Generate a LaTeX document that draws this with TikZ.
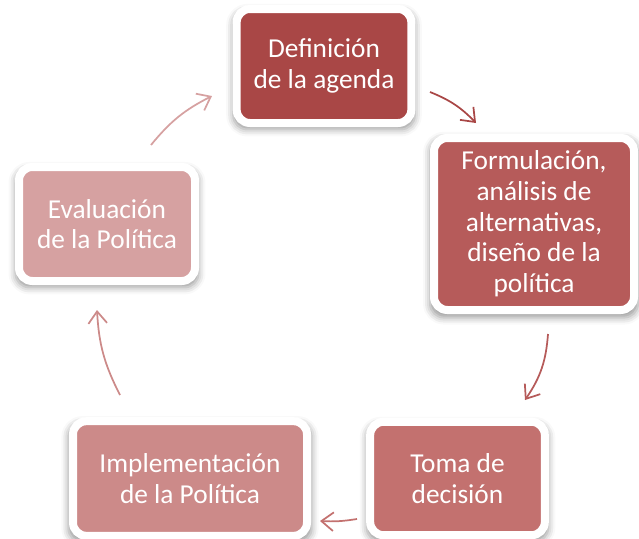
\documentclass[tikz,border=0pt]{standalone}
\usepackage{fontspec}
\setmainfont{Carlito}
\usetikzlibrary{arrows.meta,shadows.blur}
\definecolor{cDef}{HTML}{A94746}
\definecolor{cForm}{HTML}{B65B5A}
\definecolor{cToma}{HTML}{C3716F}
\definecolor{cImpl}{HTML}{CC8A89}
\definecolor{cEval}{HTML}{D6A1A1}
\tikzset{
    etapa/.style={fill=#1, draw=white, line width=6pt, rounded corners=10pt,
        text=white, align=center, inner sep=0pt,
        font=\fontsize{20.5}{23}\selectfont,
        blur shadow={shadow xshift=0pt, shadow yshift=-3pt, shadow scale=1.04,
            shadow blur radius=5pt, shadow opacity=40}},
    flecha/.style={draw=#1, line width=1.3pt, -{Straight Barb[length=9pt,width=14pt]}}
}

\begin{document}
\begin{tikzpicture}[x=0.75pt,y=-0.75pt]
    \useasboundingbox (0,0) rectangle (639,539);

    \node[etapa=cDef, minimum width=131pt, minimum height=85.5pt] (def) at (324,66)
        {Definición\\de la agenda};
    \node[etapa=cForm, minimum width=150pt, minimum height=129pt] (form) at (534,224)
        {Formulación,\\análisis de\\alternativas,\\diseño de la\\política};
    \node[etapa=cToma, minimum width=131pt, minimum height=85pt] (toma) at (457.5,478.5)
        {Toma de\\decisión};
    \node[etapa=cImpl, minimum width=175.5pt, minimum height=86pt] (impl) at (190,478.5)
        {Implementación\\de la Política};
    \node[etapa=cEval, minimum width=132pt, minimum height=85.5pt] (eval) at (107,224)
        {Evaluación\\de la Política};

    \coordinate (f1a) at (430,92);
    \coordinate (f1b) at (476,123);
    \coordinate (f2a) at (548,334);
    \coordinate (f2b) at (525,400);
    \coordinate (f3a) at (357,519);
    \coordinate (f3b) at (320,521);
    \coordinate (f4a) at (120,395);
    \coordinate (f4b) at (97,310);
    \coordinate (f5a) at (151,145);
    \coordinate (f5b) at (212,96);

    \draw[flecha=cDef] (f1a) to[bend left=12] (f1b);
    \draw[flecha=cForm] (f2a) to[bend left=15] (f2b);
    \draw[flecha=cToma] (f3a) to[bend left=6] (f3b);
    \draw[flecha=cImpl] (f4a) to[bend left=12] (f4b);
    \draw[flecha=cEval] (f5a) to[bend left=12] (f5b);
\end{tikzpicture}
\end{document}
